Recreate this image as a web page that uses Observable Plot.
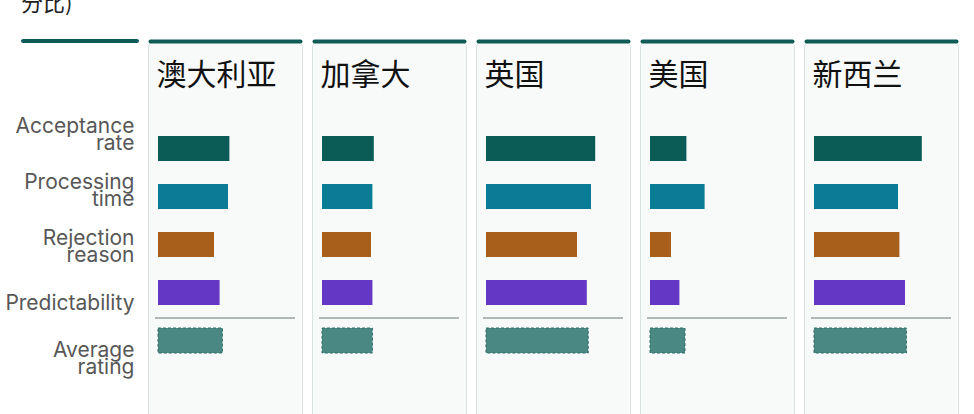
<!DOCTYPE html>
<html>
<head>
<meta charset="utf-8">
<script src="https://cdn.jsdelivr.net/npm/d3@7"></script>
<script src="https://cdn.jsdelivr.net/npm/@observablehq/plot@0.6"></script>
<style>
  html, body { margin: 0; padding: 0; background: #fff; overflow: hidden; width: 974px; height: 414px; }
  #wrap { position: relative; width: 974px; height: 414px; overflow: hidden; }
  #title { position: absolute; left: 21px; top: -10px; font-family: "Noto Sans CJK SC", sans-serif; font-size: 22px; line-height: 22px; color: #222; white-space: nowrap; }
  #lead { position: absolute; left: 21px; top: 39px; width: 118px; height: 4px; background: #0f5c57; border-radius: 2px; }
  #row { position: absolute; left: 0; top: 0; display: flex; }
  #row svg { display: block; overflow: visible; }
</style>
</head>
<body>
<div id="wrap">
  <div id="title">分比)</div>
  <div id="lead"></div>
  <div id="row"><div id="labels"></div><div id="chart"></div></div>
</div>
<script>
// ---- data ----
const countries = ["澳大利亚", "加拿大", "英国", "美国", "新西兰"];
const metrics = ["Acceptance rate", "Processing time", "Rejection reason", "Predictability", "Average rating"];
const metricLabels = ["Acceptance\nrate", "Processing\ntime", "Rejection\nreason", "Predictability", "Average\nrating"];
const acceptanceRate  = [51, 37, 78, 26, 77];
const processingTime  = [50, 36, 75, 39, 60];
const rejectionReason = [40, 35, 65, 15, 61];
const predictability  = [44, 36, 72, 21, 65];
const averageRating   = [46, 36, 73, 25, 66];
const metricColors = ["#0b5c57", "#0a7c96", "#a85f1b", "#6438c4", "#4a8884"];

// ---- table built from arrays ----
const series = [acceptanceRate, processingTime, rejectionReason, predictability, averageRating];
const rows = [];
countries.forEach((c, i) => {
  metrics.forEach((m, j) => rows.push({country: c, metric: m, value: series[j][i]}));
});
const labelRows = metrics.map((m, j) => ({metric: m, label: metricLabels[j]}));

// ---- label column ----
const labels = Plot.plot({
  width: 148, height: 414, margin: 0,
  x: {axis: null, domain: [0, 1], range: [0, 148]},
  y: {type: "point", domain: metrics, range: [134, 361], padding: 0, axis: null},
  style: {background: "transparent", fontFamily: "Inter, sans-serif"},
  marks: [
    Plot.text(labelRows, {y: "metric", text: "label", frameAnchor: "right", dx: -14, textAnchor: "end",
      fontSize: 21, lineHeight: 0.8, fill: "#575757"})
  ]
});
document.getElementById("labels").append(labels);

// ---- panels ----
const chart = Plot.plot({
  width: 826, height: 430,
  marginLeft: 0, marginRight: 16, marginTop: 41, marginBottom: 0,
  fx: {domain: countries, paddingInner: 10 / 164, paddingOuter: 0, axis: null},
  x: {domain: [0, 100], range: [10, 150], axis: null},
  y: {domain: metrics, range: [111, 378], padding: 0.486, axis: null},
  color: {domain: metrics, range: metricColors},
  style: {background: "transparent", fontFamily: "Inter, sans-serif"},
  marks: [
    Plot.frame({fill: "#f8fafa", stroke: "#d9e1e1", rx: 6}),
    Plot.frame({anchor: "top", stroke: "#0f5c57", strokeWidth: 4, strokeLinecap: "round", insetLeft: 2, insetRight: 2}),
    Plot.text(countries, {fx: d => d, text: d => d, frameAnchor: "top-left", dx: 8, dy: 43, lineAnchor: "bottom",
      fontSize: 30, fill: "#111", fontFamily: "Noto Sans CJK SC"}),
    Plot.barX(rows.filter(d => d.metric !== metrics[4]), {fx: "country", y: "metric", x: "value", fill: "metric"}),
    Plot.ruleY([metrics[4]], {dy: -23, stroke: "#9aa0a0", strokeWidth: 1.3, insetLeft: 7, insetRight: 7}),
    Plot.barX(rows.filter(d => d.metric === metrics[4]), {fx: "country", y: "metric", x: "value", fill: "metric",
      stroke: "#2f6d68", strokeDasharray: "3,2", strokeWidth: 1})
  ]
});
document.getElementById("chart").append(chart);
</script>
</body>
</html>
